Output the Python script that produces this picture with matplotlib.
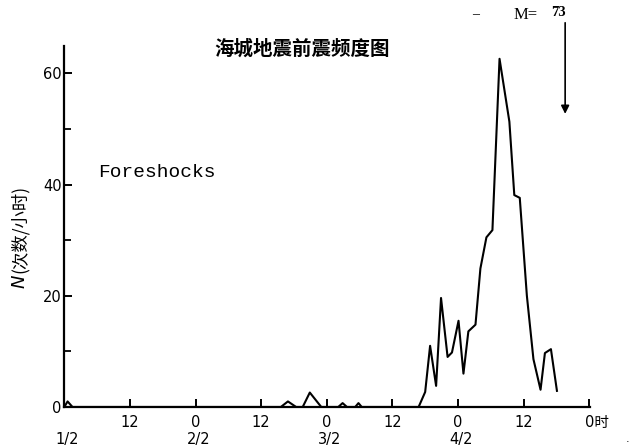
import matplotlib
matplotlib.use("Agg")
import matplotlib.pyplot as plt
from matplotlib.ticker import MultipleLocator

plt.rcParams['font.family'] = ['DejaVu Sans', 'Noto Sans CJK SC']

# Hours since 0h on 1 February; foreshock counts per hour
hours = [0, 0.6, 1.5, 39.6, 40.9, 42.4, 43.6, 44.9, 47.0, 50.1, 50.9, 51.7,
         53.2, 53.8, 54.4, 64.8, 66.0, 66.9, 68.0, 68.9, 70.1, 70.9, 72.1,
         73.0, 73.9, 75.2, 76.1, 77.2, 78.3, 79.6, 81.4, 82.3, 83.3, 84.6,
         85.8, 87.1, 87.9, 89.0, 90.1]
counts = [0, 1.0, 0, 0, 1.0, 0, 0, 2.6, 0, 0, 0.7, 0,
          0, 0.7, 0, 0, 2.7, 11, 3.8, 19.6, 9, 9.8, 15.5,
          6, 13.6, 14.8, 24.9, 30.5, 31.8, 62.6, 51.3, 38.1, 37.6, 20,
          8.6, 3.1, 9.7, 10.4, 2.9]

xtick_pos = [0, 12, 24, 36, 48, 60, 72, 84, 96]
hour_labels = ['', '12', '0', '12', '0', '12', '0', '12', '0时']
date_pos = [0, 24, 48, 72]
date_labels = ['1/2', '2/2', '3/2', '4/2']
ytick_pos = [0, 20, 40, 60]
mainshock_hour = 91.6
title = '海城地震前震频度图'
ylabel_var = 'N'
ylabel_unit = '(次数/小时)'

fig = plt.figure(figsize=(6.32, 4.46), dpi=100)
ax = fig.add_axes([64.3 / 632, 39 / 446, 526 / 632, 361 / 446])
ax.plot(hours, counts, color='black', lw=1.5)
ax.set_xlim(0, 96.2)
ax.set_ylim(0, 64.9)

for s in ['top', 'right']:
    ax.spines[s].set_visible(False)
for s in ['left', 'bottom']:
    ax.spines[s].set_linewidth(1.6)

ax.set_yticks(ytick_pos)
ax.set_yticklabels([str(v) for v in ytick_pos], fontsize=10.5)
ax.yaxis.set_minor_locator(MultipleLocator(10))
ax.tick_params(axis='y', which='major', direction='in', length=6, width=1.4, pad=2)
ax.tick_params(axis='y', which='minor', direction='in', length=5, width=1.3)

ax.set_xticks(xtick_pos)
ax.set_xticklabels([])
ax.tick_params(axis='x', which='major', direction='in', length=6, width=1.4)

trans = ax.get_xaxis_transform()
for x, lab in zip(xtick_pos, hour_labels):
    if lab == '0时':
        ax.text(x - 0.75, -0.022, lab, transform=trans, ha='left', va='top', fontsize=10.5)
    elif lab:
        ax.text(x, -0.022, lab, transform=trans, ha='center', va='top', fontsize=10.5)
for x, lab in zip(date_pos, date_labels):
    ax.text(x + 0.6, -0.068, lab, transform=trans, ha='center', va='top', fontsize=10.5)

# y-axis label: italic N followed by the unit in CJK
fig.text(20 / 632, 1 - 274 / 446, ylabel_var, rotation=90, fontsize=13, fontstyle='italic',
         family='DejaVu Sans', ha='center', va='top')
fig.text(20 / 632, 1 - 273 / 446, ylabel_unit, rotation=90, fontsize=12.5,
         family=['Noto Sans CJK SC', 'DejaVu Sans'], ha='center', va='bottom')

fig.text(302 / 632, 1 - 49 / 446, title, ha='center', va='center', fontsize=14,
         fontweight='bold', family=['Noto Sans CJK SC'])
ax.text(6.2, 42.2, 'Foreshocks', fontsize=14, family='Liberation Mono', va='center', ha='left')

fig.text(514 / 632, 1 - 15 / 446, 'M=', fontsize=12, family='Liberation Serif', va='center', ha='left')
fig.text(551 / 632, 1 - 13 / 446, '73', fontsize=10.5, family='Liberation Serif',
         fontweight='bold', va='center', ha='left')
fig.text(472 / 632, 1 - 15 / 446, '–', fontsize=10, family='Liberation Serif', va='center', ha='left')
fig.text(626 / 632, 1 - 439 / 446, '.', fontsize=8, va='center', ha='left')

ax.annotate('', xy=(mainshock_hour, 52.2), xycoords='data',
            xytext=(mainshock_hour, 1 - 20 / 446), textcoords=('data', 'figure fraction'),
            arrowprops=dict(arrowstyle='-|>', color='black', lw=1.2, mutation_scale=12),
            annotation_clip=False)

fig.savefig('out.png', dpi=100)
